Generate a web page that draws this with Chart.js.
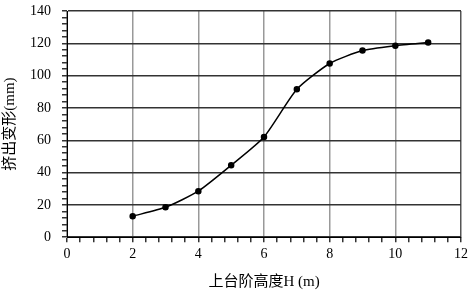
<!DOCTYPE html>
<html>
<head>
<meta charset="utf-8">
<script src="https://cdn.jsdelivr.net/npm/chart.js@4/dist/chart.umd.min.js"></script>
<style>
  html, body { margin: 0; padding: 0; background: #fff; }
  #wrap { width: 472px; height: 291px; }
</style>
</head>
<body>
<div id="wrap"><canvas id="chart" width="472" height="291"></canvas></div>
<script>
// heights of the upper bench H (m) and squeeze-out deformation (mm)
const heights = [2, 3, 4, 5, 6, 7, 8, 9, 10, 11];
const deformation = [13, 18.5, 28.5, 44.5, 62, 91.5, 107.5, 115.5, 118.5, 120.5];

const xTitle = "上台阶高度H (m)";
const yTitle = "挤出变形(mm)";

const serif = "'Liberation Serif', 'Times New Roman', serif";
const cjk = "'Liberation Serif', 'Noto Sans CJK SC', serif";

function isMajor(v, step) {
  const r = v / step;
  return Math.abs(r - Math.round(r)) < 1e-6;
}

const points = heights.map((h, i) => ({ x: h, y: deformation[i] }));

new Chart(document.getElementById("chart"), {
  type: 'line',
  data: {
    datasets: [{
      data: points,
      borderColor: '#000',
      backgroundColor: '#000',
      borderWidth: 1.5,
      pointRadius: 2.5,
      pointHoverRadius: 2.5,
      tension: 0.2,
      fill: false
    }]
  },
  options: {
    responsive: false,
    animation: false,
    layout: { padding: { left: 0, right: 1, top: 0, bottom: 0 } },
    plugins: { legend: { display: false }, tooltip: { enabled: false } },
    scales: {
      x: {
        type: 'linear',
        min: 0, max: 12,
        ticks: {
          stepSize: 0.4,
          autoSkip: false,
          maxRotation: 0,
          padding: 4,
          color: '#000',
          font: { family: serif, size: 14 },
          callback: v => isMajor(v, 2) ? String(Math.round(v)) : ''
        },
        grid: {
          color: ctx => {
            const v = ctx.tick.value;
            if (!isMajor(v, 2)) return 'rgba(0,0,0,0)';
            return v >= 12 ? '#555' : '#999';
          },
          lineWidth: 1.5,
          tickColor: '#333',
          tickLength: 5
        },
        border: { color: '#000', width: 1 },
        title: {
          display: true,
          text: xTitle,
          color: '#000',
          font: { family: cjk, size: 15 },
          padding: { top: 6, bottom: 0 }
        }
      },
      y: {
        min: 0, max: 140,
        ticks: {
          stepSize: 4,
          autoSkip: false,
          padding: 11,
          color: '#000',
          // lineHeight 0 keeps the top label from pushing the plot down
          font: { family: serif, size: 14, lineHeight: 0 },
          callback: v => isMajor(v, 20) ? String(Math.round(v)) : ''
        },
        grid: {
          color: ctx => isMajor(ctx.tick.value, 20) ? '#333' : 'rgba(0,0,0,0)',
          lineWidth: 1.5,
          tickColor: '#333',
          tickLength: 5
        },
        border: { color: '#000', width: 1 },
        title: {
          display: true,
          text: yTitle,
          color: '#000',
          font: { family: cjk, size: 15 },
          padding: { top: 1, bottom: 0 }
        }
      }
    }
  }
});
</script>
</body>
</html>
